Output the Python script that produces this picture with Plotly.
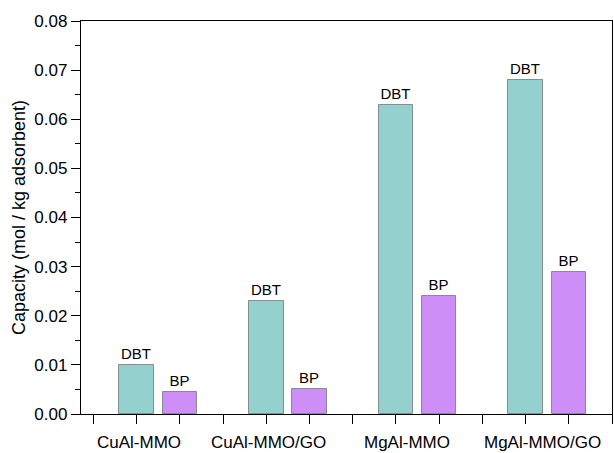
import plotly.graph_objects as go

# Sorbent materials and measured adsorption capacities (mol / kg adsorbent)
materials = ["CuAl-MMO", "CuAl-MMO/GO", "MgAl-MMO", "MgAl-MMO/GO"]
dbt_capacity = [0.010, 0.023, 0.063, 0.068]
bp_capacity = [0.0045, 0.0050, 0.024, 0.029]
series_names = ["DBT", "BP"]
y_ticks = [0.00, 0.01, 0.02, 0.03, 0.04, 0.05, 0.06, 0.07, 0.08]

FONT = "Arial, Liberation Sans, Helvetica, sans-serif"
TEAL = "#94D0CD"
VIOLET = "#CD8FF7"

# Each material occupies three slots on the numeric x axis: DBT, BP, gap
dbt_x = [3 * i + 1 for i in range(len(materials))]
bp_x = [3 * i + 2 for i in range(len(materials))]
label_x = [x + off for x, off in zip(dbt_x, [0.05, 0.05, 0.26, 0.39])]

fig = go.Figure()
for name, xs, ys, color in [
    (series_names[0], dbt_x, dbt_capacity, TEAL),
    (series_names[1], bp_x, bp_capacity, VIOLET),
]:
    fig.add_trace(go.Bar(
        x=xs, y=ys, name=name, width=0.8,
        marker=dict(color=color, line=dict(color="rgba(105,115,115,0.75)", width=1)),
        text=[name] * len(xs), textposition="outside",
        textfont=dict(family=FONT, size=15, color="black"),
        cliponaxis=False, showlegend=False,
    ))

for x, label in zip(label_x, materials):
    fig.add_annotation(
        x=x, y=0, xref="x", yref="paper", yanchor="top", yshift=-17,
        text=label, showarrow=False,
        font=dict(family=FONT, size=17, color="black"),
    )

fig.update_layout(
    width=614, height=453,
    margin=dict(l=81, r=2, t=21, b=39),
    paper_bgcolor="white", plot_bgcolor="white",
    bargap=0,
)
fig.update_xaxes(
    range=[-0.29, 12], tickvals=list(range(0, 13)), showticklabels=False,
    ticks="outside", ticklen=9, tickwidth=1.3, tickcolor="black",
    showline=True, linecolor="black", linewidth=1.3, mirror=True,
    showgrid=False, zeroline=False,
)
fig.update_yaxes(
    range=[0, 0.08], tickvals=y_ticks, tickformat=".2f",
    ticks="outside", ticklen=9, tickwidth=1.3, tickcolor="black",
    minor=dict(dtick=0.005, ticks="outside", ticklen=5, tickwidth=1.3, tickcolor="black"),
    tickfont=dict(family=FONT, size=17, color="black"),
    showline=True, linecolor="black", linewidth=1.3, mirror=True,
    showgrid=False, zeroline=False,
    title=dict(text="Capacity (mol / kg adsorbent)", standoff=4,
               font=dict(family=FONT, size=18, color="black")),
)

fig.write_html("out.html")
